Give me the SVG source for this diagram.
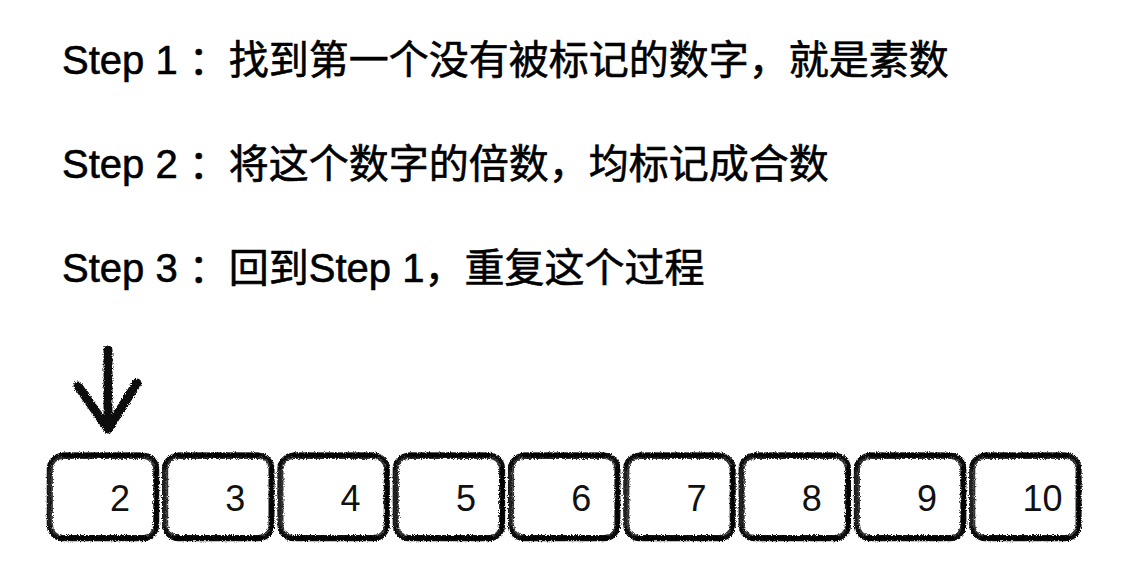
<svg xmlns="http://www.w3.org/2000/svg" width="1134" height="569" viewBox="0 0 1134 569">
  <defs>
    <filter id="rough" x="-10%" y="-10%" width="120%" height="120%">
      <feTurbulence type="fractalNoise" baseFrequency="0.9" numOctaves="2" seed="4" result="n"/>
      <feDisplacementMap in="SourceGraphic" in2="n" scale="4" xChannelSelector="R" yChannelSelector="G"/>
    </filter>
    <g id="box">
      <rect x="2" y="2" width="108" height="84" rx="14" ry="14" class="outer"/>
      <rect x="5" y="5" width="102" height="78" rx="11" ry="11" class="inner"/>
      <path d="M16 2 H96" class="topheavy"/>
      <path d="M14 85 H98" class="bottomheavy"/>
      <path d="M109 16 V76" class="rightheavy"/>
      <path d="M2 18 V72" class="leftline"/>
    </g>
  </defs>
  <style>
    .step { font-family: "Liberation Sans", "Noto Sans CJK SC", sans-serif; font-size: 40px; fill: #000; stroke: #000; stroke-width: 0.6; }
    .num { font-family: "Liberation Sans", "Noto Sans", sans-serif; font-size: 36px; fill: #111; text-anchor: middle; }
    .outer { fill: #fff; stroke: #111; stroke-width: 4.5; }
    .inner { fill: none; stroke: #333; stroke-width: 1.8; }
    .topheavy { fill: none; stroke: #000; stroke-width: 5; stroke-linecap: round; }
    .bottomheavy { fill: none; stroke: #000; stroke-width: 5; stroke-linecap: round; }
    .rightheavy { fill: none; stroke: #000; stroke-width: 4; stroke-linecap: round; }
    .leftline { fill: none; stroke: #222; stroke-width: 3; stroke-linecap: round; }
    .arrow { fill: none; stroke: #111; stroke-width: 9; stroke-linecap: round; stroke-linejoin: round; }
  </style>
  <rect width="1134" height="569" fill="#fff"/>

  <g id="step1"><text class="step" x="62" y="74">Step 1 ：找到第一个没有被标记的数字，就是素数</text></g>
  <g id="step2"><text class="step" x="62" y="178">Step 2 ：将这个数字的倍数，均标记成合数</text></g>
  <g id="step3"><text class="step" x="62" y="282">Step 3 ：回到Step 1，重复这个过程</text></g>

  <g id="connectors">
    <g filter="url(#rough)">
      <path class="arrow" d="M108 350 V428"/>
      <path class="arrow" d="M78 386 L108 429 L137 383"/>
    </g>
  </g>

  <g id="node-2"><use href="#box" x="47" y="453" filter="url(#rough)"/><text class="num" x="120" y="511">2</text></g>
  <g id="node-3"><use href="#box" x="162.3" y="453" filter="url(#rough)"/><text class="num" x="235.3" y="511">3</text></g>
  <g id="node-4"><use href="#box" x="277.6" y="453" filter="url(#rough)"/><text class="num" x="350.6" y="511">4</text></g>
  <g id="node-5"><use href="#box" x="392.9" y="453" filter="url(#rough)"/><text class="num" x="465.9" y="511">5</text></g>
  <g id="node-6"><use href="#box" x="508.2" y="453" filter="url(#rough)"/><text class="num" x="581.2" y="511">6</text></g>
  <g id="node-7"><use href="#box" x="623.5" y="453" filter="url(#rough)"/><text class="num" x="696.5" y="511">7</text></g>
  <g id="node-8"><use href="#box" x="738.8" y="453" filter="url(#rough)"/><text class="num" x="811.8" y="511">8</text></g>
  <g id="node-9"><use href="#box" x="854.1" y="453" filter="url(#rough)"/><text class="num" x="927.1" y="511">9</text></g>
  <g id="node-10"><use href="#box" x="969.4" y="453" filter="url(#rough)"/><text class="num" x="1042.4" y="511">10</text></g>
</svg>
